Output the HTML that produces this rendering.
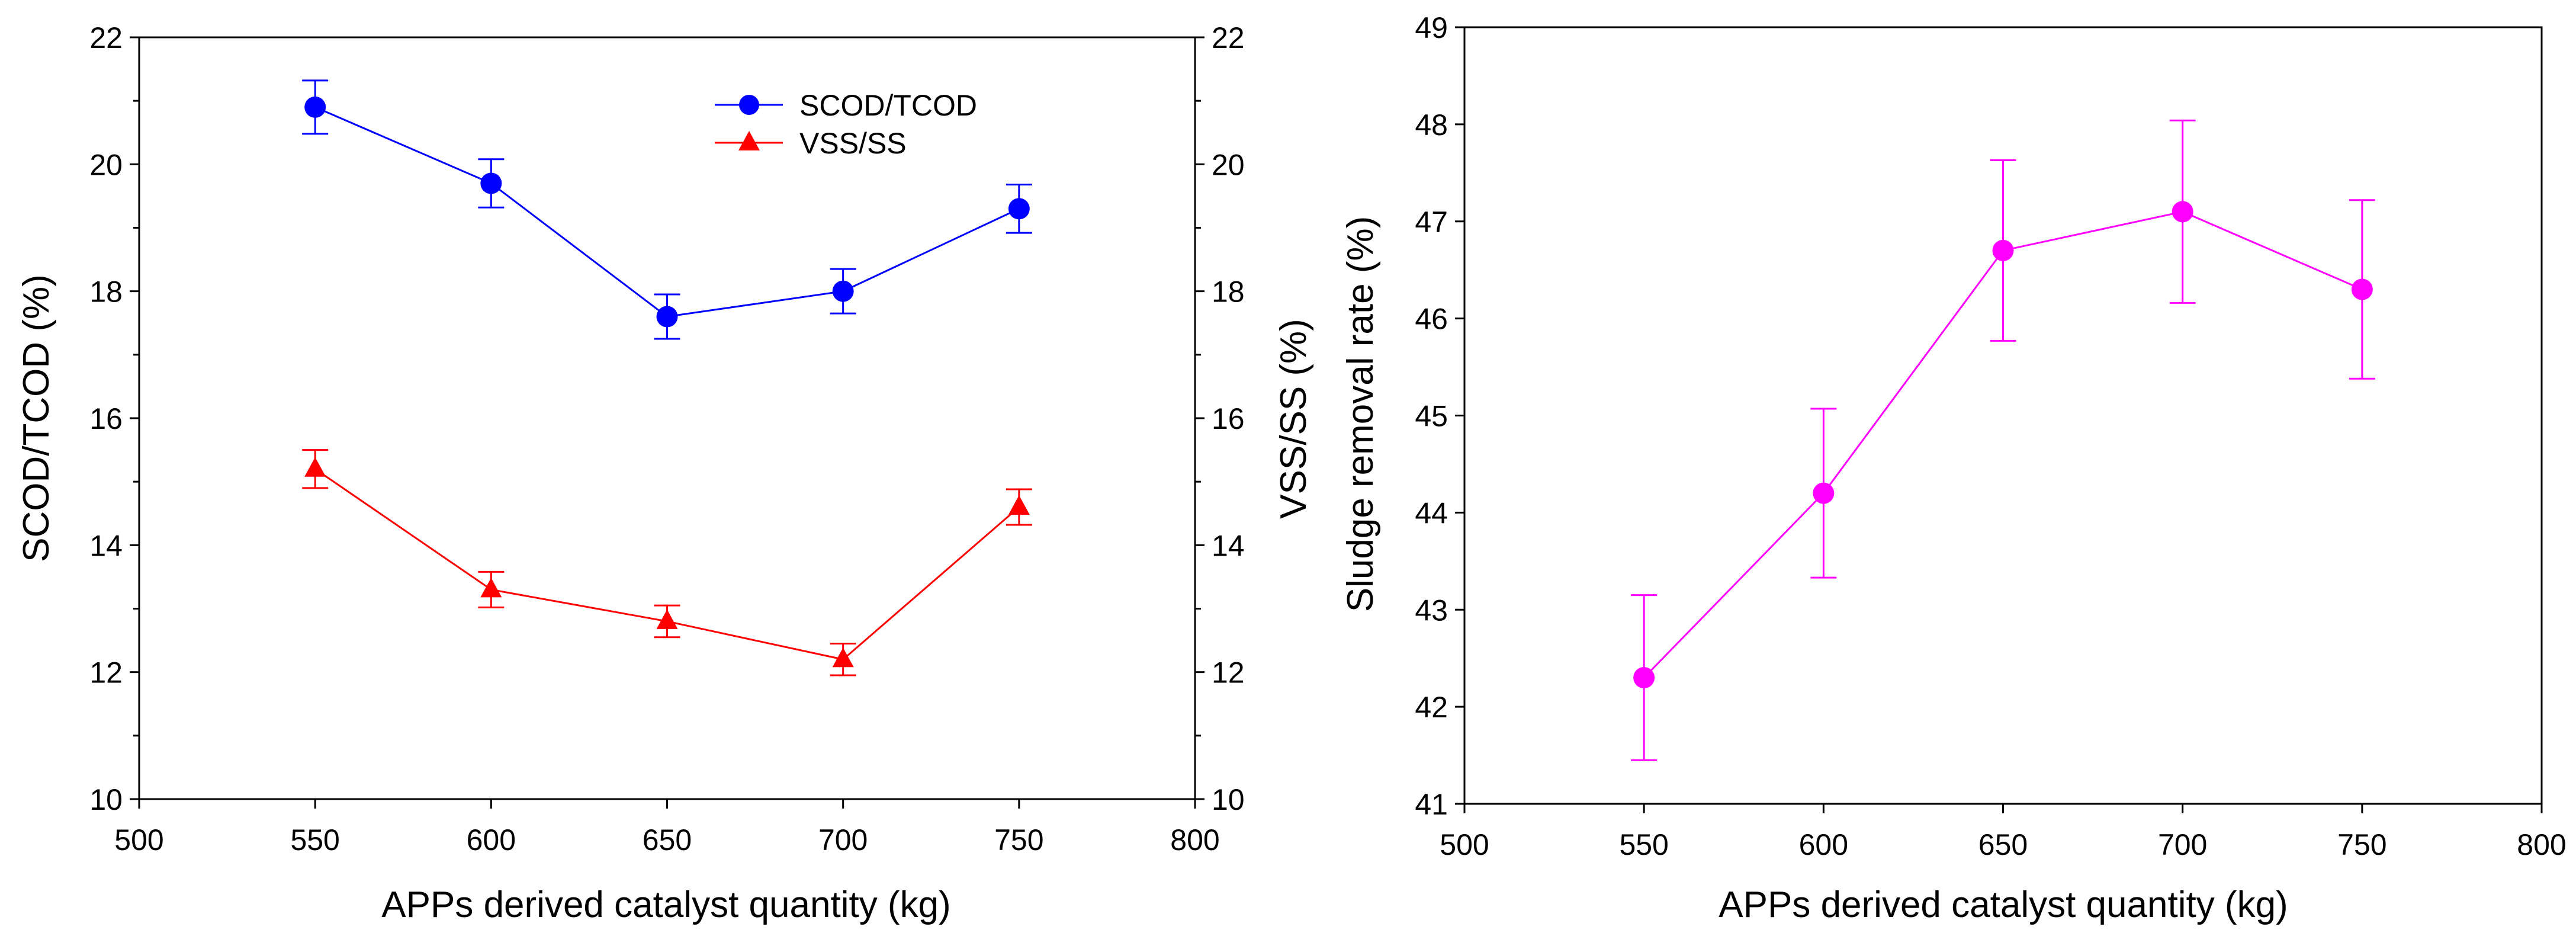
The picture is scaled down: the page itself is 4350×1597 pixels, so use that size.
<!DOCTYPE html>
<html><head><meta charset="utf-8"><style>body{margin:0;background:#fff}svg{display:block;font-family:"Liberation Sans",Arial,sans-serif}</style></head>
<body>
<svg id="c" width="4350" height="1597" viewBox="0 0 4350 1597"></svg>
<script>
const categories=[550,600,650,700,750];
const scodValues=[20.9,19.7,17.6,18.0,19.3];
const scodErrors=[0.42,0.38,0.35,0.35,0.38];
const vssValues=[15.2,13.3,12.8,12.2,14.6];
const vssErrors=[0.3,0.28,0.25,0.25,0.28];
const sludgeValues=[42.3,44.2,46.7,47.1,46.3];
const sludgeErrors=[0.85,0.87,0.93,0.94,0.92];
const xTicks=[500,550,600,650,700,750,800];
const leftYTicks=[10,12,14,16,18,20,22];
const rightYTicks=[41,42,43,44,45,46,47,48,49];

const svg=document.getElementById('c');const NS='http://www.w3.org/2000/svg';
function el(t,a,txt){const e=document.createElementNS(NS,t);for(const k in a)e.setAttribute(k,a[k]);if(txt!==undefined)e.textContent=txt;svg.appendChild(e);return e;}
function lin(d0,d1,r0,r1){return v=>r0+(v-d0)/(d1-d0)*(r1-r0);}

function frame(x0,x1,y0,y1,prefix){
  const f=el('rect',{x:x0,y:y0,width:x1-x0,height:y1-y0,fill:'none',stroke:'#000','stroke-width':3});
  
}
function xAxis(sx,y1,prefix,cx){
  xTicks.forEach(v=>{
    const t=el('line',{x1:sx(v),x2:sx(v),y1:y1,y2:y1+16,stroke:'#000','stroke-width':3});
    
    const l=el('text',{x:sx(v),y:y1+86,'font-size':50,'text-anchor':'middle'},v);
    
  });
  const ti=el('text',{x:cx,y:1548,'font-size':62,'text-anchor':'middle'},'APPs derived catalyst quantity (kg)');
  
}
function yAxis(sy,ticks,ax,dir,prefix,minor){
  ticks.forEach((v,i)=>{
    const t=el('line',{x1:ax,x2:ax+dir*16,y1:sy(v),y2:sy(v),stroke:'#000','stroke-width':3});
    
    const l=el('text',{x:ax+dir*28,y:sy(v)+18,'font-size':50,'text-anchor':dir<0?'end':'start'},v);
    
    if(minor&&i<ticks.length-1){const m=(v+ticks[i+1])/2;
      const mt=el('line',{x1:ax,x2:ax+dir*10,y1:sy(m),y2:sy(m),stroke:'#000','stroke-width':3});
      }
  });
}
function series(sx,sy,vals,errs,color,marker,name){
  const pts=categories.map((c,i)=>sx(c)+','+sy(vals[i])).join(' ');
  const pl=el('polyline',{points:pts,fill:'none',stroke:color,'stroke-width':3});
  
  categories.forEach((c,i)=>{
    const x=sx(c),yt=sy(vals[i]+errs[i]),yb=sy(vals[i]-errs[i]);
    const eb=el('path',{d:`M${x},${yt}V${yb}M${x-22},${yt}H${x+22}M${x-22},${yb}H${x+22}`,stroke:color,'stroke-width':3,fill:'none'});
    
    const y=sy(vals[i]);let m;
    if(marker==='c')m=el('circle',{cx:x,cy:y,r:18,fill:color});
    else m=el('polygon',{points:`${x},${y-20} ${x+18},${y+13} ${x-18},${y+13}`,fill:color});
    
  });
}
// Left chart
const L={x0:235,x1:2018,y0:63,y1:1349};
const sxL=lin(500,800,L.x0,L.x1), syL=lin(10,22,L.y1,L.y0);
frame(L.x0,L.x1,L.y0,L.y1,'left');
xAxis(sxL,L.y1,'left',1125);
yAxis(syL,leftYTicks,L.x0,-1,'left-y',true);
yAxis(syL,leftYTicks,L.x1,1,'right-y',true);
let t=el('text',{x:0,y:0,'font-size':62,'text-anchor':'middle',transform:'translate(82,706) rotate(-90)'},'SCOD/TCOD (%)');

t=el('text',{x:0,y:0,'font-size':62,'text-anchor':'middle',transform:'translate(2205,707) rotate(-90)'},'VSS/SS (%)');

series(sxL,syL,scodValues,scodErrors,'#0000ff','c','scod-tcod');
series(sxL,syL,vssValues,vssErrors,'#ff0000','t','vss-ss');
// legend
let g=el('line',{x1:1207,x2:1322,y1:177,y2:177,stroke:'#0000ff','stroke-width':3});
g=el('circle',{cx:1265,cy:177,r:17,fill:'#0000ff'});
g=el('text',{x:1350,y:195,'font-size':50},'SCOD/TCOD');
g=el('line',{x1:1207,x2:1322,y1:241,y2:241,stroke:'#ff0000','stroke-width':3});
g=el('polygon',{points:'1265,221 1283,254 1247,254',fill:'#ff0000'});
g=el('text',{x:1350,y:259,'font-size':50},'VSS/SS');
// Right chart
const R={x0:2473,x1:4292,y0:46,y1:1357};
const sxR=lin(500,800,R.x0,R.x1), syR=lin(41,49,R.y1,R.y0);
frame(R.x0,R.x1,R.y0,R.y1,'sludge');
xAxis(sxR,R.y1,'sludge',3383);
yAxis(syR,rightYTicks,R.x0,-1,'sludge-y',false);
t=el('text',{x:0,y:0,'font-size':62,'text-anchor':'middle',transform:'translate(2318,699) rotate(-90)'},'Sludge removal rate (%)');

series(sxR,syR,sludgeValues,sludgeErrors,'#ff00ff','c','sludge-removal');
</script>
</body></html>
